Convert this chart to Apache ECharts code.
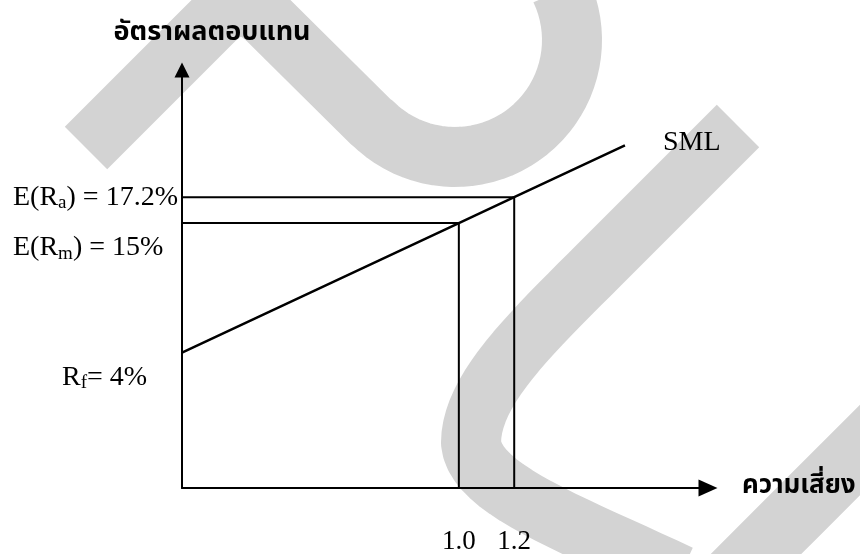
<!DOCTYPE html>
<html lang="th">
<head>
<meta charset="UTF-8">
<title>SML</title>
<script src="https://cdn.jsdelivr.net/npm/echarts@6/dist/echarts.min.js"></script>
</head>
<body style="margin:0;background:#fff">
<div id="chart" style="width:860px;height:554px"></div>
<script>
// beta values marked on the risk axis
const betaTicks = [1.0, 1.2];
// returns (%) marked on the return axis
const rf = 4;
const rm = 15;
const ra = 17.2;
// security market line: beta -> expected return (%)
const smlBeta = [0, 1.0, 1.2, 1.6];
const smlReturn = [4, 15, 17.2, 21.6];

// axis ranges (drawing is a schematic, fitted to the figure)
const X_MAX = 1.9;
const Y_MIN = -7.5;
const Y_MAX = 28;

const serif = '"Liberation Serif", "Times New Roman", serif';
const thai = '"Noto Sans Thai", "Loma", "Garuda", "Tlwg Typo", "Noto Sans", sans-serif';

function returnLabel(v) {
    if (Math.abs(v - ra) < 1e-6) return '{n|E(R}{s|a}{n|) = 17.2%}';
    if (Math.abs(v - rm) < 1e-6) return '{n|E(R}{s|m}{n|) = 15%}';
    if (Math.abs(v - rf) < 1e-6) return '{p|R}{s|f}{n|= 4%}';
    return '';
}
const labelRich = {
    n: { fontSize: 28, fontFamily: serif, color: '#000', lineHeight: 30 },
    p: { fontSize: 28, fontFamily: serif, color: '#000', lineHeight: 30, padding: [0, 0, 0, 49] },
    s: { fontSize: 19, fontFamily: serif, color: '#000', lineHeight: 10, verticalAlign: 'bottom' }
};

// --- watermark strokes (decoration behind the chart) ---
function seg(p, q, n) {
    const out = [];
    for (let i = 0; i <= n; i++) {
        const t = i / n;
        out.push([p[0] + (q[0] - p[0]) * t, p[1] + (q[1] - p[1]) * t]);
    }
    return out;
}
function quad(a, b, c, n) {
    const out = [];
    for (let i = 0; i <= n; i++) {
        const t = i / n, u = 1 - t;
        out.push([u * u * a[0] + 2 * u * t * b[0] + t * t * c[0], u * u * a[1] + 2 * u * t * b[1] + t * t * c[1]]);
    }
    return out;
}
function cubic(a, b, c, d, n) {
    const out = [];
    for (let i = 0; i <= n; i++) {
        const t = i / n, u = 1 - t;
        out.push([
            u * u * u * a[0] + 3 * u * u * t * b[0] + 3 * u * t * t * c[0] + t * t * t * d[0],
            u * u * u * a[1] + 3 * u * u * t * b[1] + 3 * u * t * t * c[1] + t * t * t * d[1]
        ]);
    }
    return out;
}
function arcPts(cx, cy, r, a0, a1, n) {
    const out = [];
    for (let i = 0; i <= n; i++) {
        const a = (a0 + (a1 - a0) * i / n) * Math.PI / 180;
        out.push([cx + r * Math.cos(a), cy + r * Math.sin(a)]);
    }
    return out;
}
const wave = [].concat(
    seg([86, 148], [214, 20], 4),
    quad([214, 20], [241, -7], [268, 20], 12),
    seg([268, 20], [372, 123], 4),
    arcPts(455, 40, 117, 135, -25, 40)
);
const hook = [].concat(
    seg([738, 126], [600, 264], 4),
    cubic([600, 264], [530, 334], [471, 390], [471, 443], 20),
    cubic([471, 443], [475, 490], [575, 525], [680, 575], 20)
);
const slash = seg([900, 410], [690, 620], 2);
const wm = { stroke: '#d3d3d3', lineWidth: 60, fill: null, lineJoin: 'round' };

const myChart = echarts.init(document.getElementById('chart'));

const hiddenLine = { show: false };
const option = {
    backgroundColor: '#fff',
    animation: false,
    graphic: {
        elements: [
            { type: 'polyline', z: -10, silent: true, shape: { points: wave }, style: wm },
            { type: 'polyline', z: -10, silent: true, shape: { points: hook }, style: wm },
            { type: 'polyline', z: -10, silent: true, shape: { points: slash }, style: Object.assign({}, wm, { lineWidth: 64 }) }
        ]
    },
    grid: {
        left: 182,
        right: 152,
        top: 70,
        bottom: 66,
        containLabel: false,
        outerBoundsMode: 'none'
    },
    xAxis: {
        type: 'value',
        min: 0,
        max: X_MAX,
        name: 'ความเสี่ยง',
        nameLocation: 'end',
        nameGap: 34,
        nameTextStyle: { color: '#000', fontSize: 26, fontWeight: 'bold', fontFamily: thai, align: 'left', verticalAlign: 'middle' },
        axisLine: {
            show: true,
            onZero: false,
            symbol: ['none', 'triangle'],
            symbolSize: [17, 19],
            lineStyle: { color: '#000', width: 2 }
        },
        axisTick: { show: false },
        splitLine: { show: false },
        axisLabel: {
            customValues: betaTicks,
            formatter: function (v) { return v.toFixed(1); },
            margin: 40,
            color: '#000',
            fontSize: 27,
            fontFamily: serif
        }
    },
    yAxis: [
        {
            type: 'value',
            min: Y_MIN,
            max: Y_MAX,
            name: 'อัตราผลตอบแทน',
            nameLocation: 'end',
            nameGap: 22,
            nameTextStyle: { color: '#000', fontSize: 27, fontWeight: 'bold', fontFamily: thai, padding: [0, 0, 0, 60] },
            axisLine: {
                show: true,
                onZero: false,
                symbol: ['none', 'triangle'],
                symbolSize: [15, 15],
                lineStyle: { color: '#000', width: 2 }
            },
            axisTick: { show: false },
            splitLine: { show: false },
            axisLabel: {
                customValues: [rf, rm],
                formatter: returnLabel,
                hideOverlap: false,
                align: 'left',
                verticalAlign: 'top',
                padding: [10, 0, 0, 0],
                margin: 169,
                rich: labelRich
            }
        },
        {
            // second, line-less axis so the E(Ra) label is not dropped next to E(Rm)
            type: 'value',
            position: 'left',
            min: Y_MIN,
            max: Y_MAX,
            axisLine: hiddenLine,
            axisTick: { show: false },
            splitLine: { show: false },
            axisLabel: {
                customValues: [ra],
                formatter: returnLabel,
                align: 'left',
                verticalAlign: 'middle',
                margin: 169,
                rich: labelRich
            }
        }
    ],
    series: [
        {
            name: 'SML',
            type: 'line',
            silent: true,
            symbol: 'none',
            lineStyle: { color: '#000', width: 2.5 },
            endLabel: {
                show: true,
                formatter: 'SML',
                offset: [30, -3],
                color: '#000',
                fontSize: 28,
                fontFamily: serif
            },
            data: smlBeta.map(function (b, i) { return [b, smlReturn[i]]; }),
            z: 3
        },
        {
            name: 'market',
            type: 'line',
            silent: true,
            symbol: 'none',
            lineStyle: { color: '#000', width: 2 },
            data: [[0, rm], [betaTicks[0], rm], [betaTicks[0], Y_MIN]]
        },
        {
            name: 'asset a',
            type: 'line',
            silent: true,
            symbol: 'none',
            lineStyle: { color: '#000', width: 2 },
            data: [[0, ra], [betaTicks[1], ra], [betaTicks[1], Y_MIN]]
        }
    ]
};

myChart.setOption(option);
</script>
</body>
</html>
